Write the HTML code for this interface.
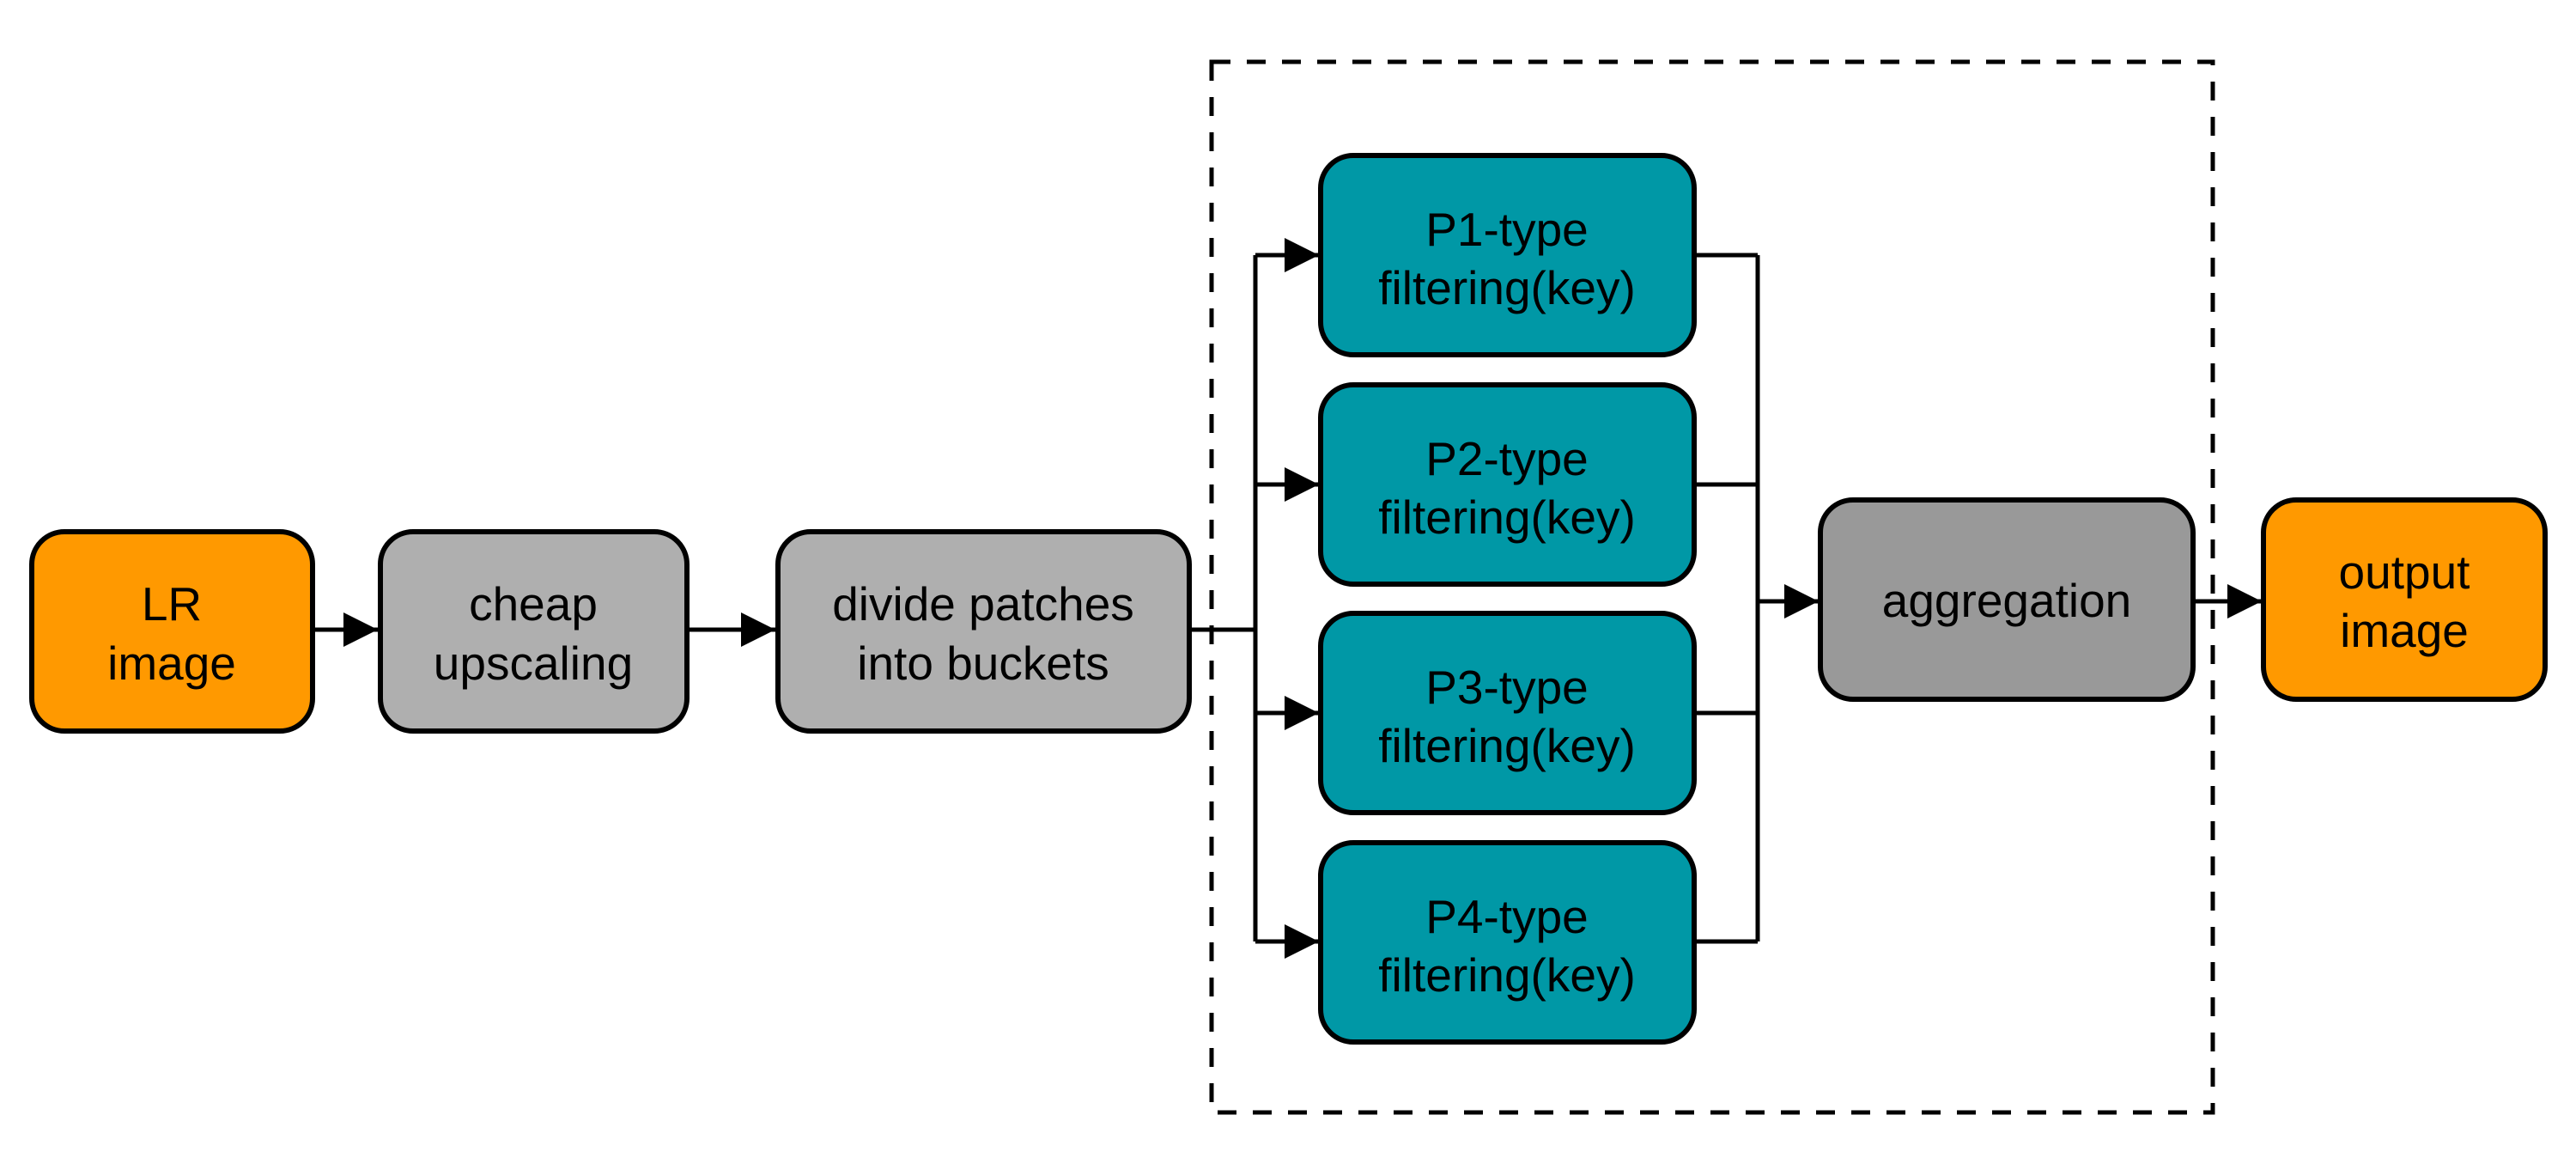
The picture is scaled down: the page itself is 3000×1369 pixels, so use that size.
<!DOCTYPE html>
<html><head><meta charset="utf-8"><style>
html,body{margin:0;padding:0;background:#fff;}
svg{display:block;}
text{font-family:"Liberation Sans",sans-serif;font-size:55px;fill:#000;text-anchor:middle;}
</style></head><body>
<svg width="3000" height="1369" viewBox="0 0 3000 1369" xmlns="http://www.w3.org/2000/svg">
<defs>
<marker id="a" markerUnits="userSpaceOnUse" markerWidth="42" markerHeight="42" refX="40" refY="20" orient="auto">
<path d="M0,0 L40,20 L0,40 Z" fill="#000"/>
</marker>
</defs>
<rect x="1411" y="72" width="1166" height="1223" fill="none" stroke="#000" stroke-width="5" stroke-dasharray="22,19"/>
<g stroke="#000" stroke-width="5" fill="none">
<line x1="364" y1="733" x2="440" y2="733" marker-end="url(#a)"/>
<line x1="800" y1="733" x2="903" y2="733" marker-end="url(#a)"/>
<line x1="1385" y1="733" x2="1462" y2="733"/>
<line x1="1462" y1="297" x2="1462" y2="1096"/>
<line x1="1462" y1="297" x2="1536" y2="297" marker-end="url(#a)"/>
<line x1="1462" y1="564" x2="1536" y2="564" marker-end="url(#a)"/>
<line x1="1462" y1="830" x2="1536" y2="830" marker-end="url(#a)"/>
<line x1="1462" y1="1096" x2="1536" y2="1096" marker-end="url(#a)"/>
<line x1="1973" y1="297" x2="2047" y2="297"/>
<line x1="1973" y1="564" x2="2047" y2="564"/>
<line x1="1973" y1="830" x2="2047" y2="830"/>
<line x1="1973" y1="1096" x2="2047" y2="1096"/>
<line x1="2047" y1="297" x2="2047" y2="1096"/>
<line x1="2047" y1="700" x2="2118" y2="700" marker-end="url(#a)"/>
<line x1="2554" y1="700" x2="2634" y2="700" marker-end="url(#a)"/>
</g>
<g stroke="#000" stroke-width="6">
<rect x="37" y="619" width="327" height="232" rx="38" fill="#FF9900"/>
<rect x="443" y="619" width="357" height="232" rx="38" fill="#AFAFAF"/>
<rect x="906" y="619" width="479" height="232" rx="38" fill="#AFAFAF"/>
<rect x="1538" y="181" width="435" height="232" rx="38" fill="#0098A6"/>
<rect x="1538" y="448" width="435" height="232" rx="38" fill="#0098A6"/>
<rect x="1538" y="714" width="435" height="232" rx="38" fill="#0098A6"/>
<rect x="1538" y="981" width="435" height="232" rx="38" fill="#0098A6"/>
<rect x="2120" y="582" width="434" height="232" rx="38" fill="#999999"/>
<rect x="2636" y="582" width="328" height="232" rx="38" fill="#FF9900"/>
</g>
<text x="200" y="722">LR</text><text x="200" y="791">image</text>
<text x="621" y="722">cheap</text><text x="621" y="791">upscaling</text>
<text x="1145" y="722">divide patches</text><text x="1145" y="791">into buckets</text>
<text x="1755" y="286">P1-type</text><text x="1755" y="354">filtering(key)</text>
<text x="1755" y="553">P2-type</text><text x="1755" y="621">filtering(key)</text>
<text x="1755" y="819">P3-type</text><text x="1755" y="887">filtering(key)</text>
<text x="1755" y="1086">P4-type</text><text x="1755" y="1154">filtering(key)</text>
<text x="2337" y="718">aggregation</text>
<text x="2800" y="685">output</text><text x="2800" y="753">image</text>
</svg>
</body></html>
